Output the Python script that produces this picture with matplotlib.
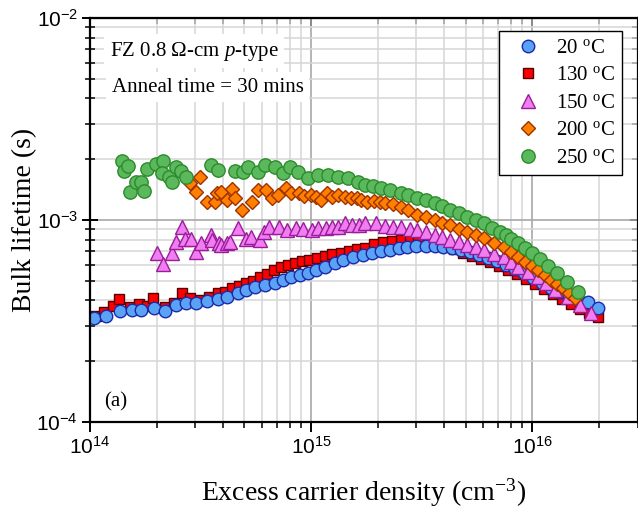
import matplotlib
matplotlib.use('Agg')
import matplotlib.pyplot as plt
from matplotlib.ticker import NullFormatter

plt.rcParams['font.family'] = ['Liberation Serif', 'DejaVu Serif']
plt.rcParams['mathtext.fontset'] = 'custom'
plt.rcParams['mathtext.rm'] = 'Liberation Serif'
plt.rcParams['mathtext.it'] = 'Liberation Serif:italic'
plt.rcParams['mathtext.bf'] = 'Liberation Serif:bold'

# Excess carrier density in units of 1e14 cm^-3, bulk lifetime in units of 1e-4 s
X_UNIT = 1e14
Y_UNIT = 1e-4

labels = ['20 $^{\\rm o}$C', '130 $^{\\rm o}$C', '150 $^{\\rm o}$C', '200 $^{\\rm o}$C', '250 $^{\\rm o}$C']

x_20 = [1.04, 1.18, 1.37, 1.55, 1.71, 1.94, 2.18, 2.44, 2.73, 3.03, 3.4, 3.81, 4.18, 4.69, 5.1, 5.59, 6.21, 6.88,
        7.48, 8.13, 8.92, 9.69, 10.5, 11.6, 12.8, 13.9, 15.5, 17.1, 18.8, 20.7, 22.7, 24.9, 27.3, 30, 33, 36.2, 39.7,
        43.6, 47.9, 52.6, 57.7, 63.4, 69.6, 76.4, 83.8, 92, 101, 111, 122, 134, 147, 161, 179, 198]
tau_20 = [3.27, 3.35, 3.54, 3.58, 3.58, 3.67, 3.54, 3.79, 3.88, 3.88, 3.97, 4.06, 4.16, 4.35, 4.50, 4.66, 4.77, 4.88,
          5.05, 5.22, 5.34, 5.47, 5.66, 5.85, 6.12, 6.34, 6.56, 6.71, 6.86, 7.02, 7.10, 7.27, 7.35, 7.44, 7.44, 7.44,
          7.35, 7.27, 7.10, 6.94, 6.71, 6.48, 6.27, 5.99, 5.72, 5.47, 5.16, 4.88, 4.61, 4.40, 4.20, 4.06, 3.93, 3.67]

x_130 = [1.06, 1.16, 1.27, 1.35, 1.52, 1.66, 1.81, 1.92, 2.18, 2.39, 2.60, 2.82, 3.13, 3.47, 3.81, 4.09, 4.41, 4.74,
         5.10, 5.48, 5.89, 6.34, 6.81, 7.33, 7.88, 8.47, 9.11, 9.79, 10.6, 11.6, 12.5, 13.6, 14.8, 16.2, 17.5, 19.2,
         21.1, 23.2, 25.4, 27.9, 30.6, 33.7, 37.0, 40.5, 44.5, 48.9, 53.7, 58.9, 64.7, 71.1, 78.0, 85.6, 93.9, 103,
         113, 125, 137, 150, 164, 181, 198]
tau_130 = [3.35, 3.50, 3.75, 4.06, 3.71, 3.84, 3.75, 4.11, 3.71, 3.88, 4.35, 4.11, 4.02, 4.16, 4.35, 4.40, 4.61, 4.71,
           4.88, 4.99, 5.22, 5.40, 5.66, 5.85, 5.99, 6.12, 6.27, 6.34, 6.48, 6.63, 6.79, 6.86, 7.02, 7.19, 7.27, 7.61,
           7.78, 7.87, 7.96, 7.96, 7.96, 7.87, 7.69, 7.44, 7.19, 6.86, 6.63, 6.41, 6.19, 5.92, 5.66, 5.40, 5.10, 4.82,
           4.55, 4.30, 4.06, 3.84, 3.63, 3.46, 3.31]

x_150 = [2.00, 2.14, 2.34, 2.44, 2.60, 2.70, 2.85, 3.03, 3.19, 3.51, 3.58, 3.85, 3.93, 4.18, 4.31, 4.69, 5.10, 5.36,
         5.89, 6.15, 6.47, 7.17, 7.80, 8.56, 9.20, 10.1, 10.8, 11.7, 12.5, 13.3, 14.2, 15.3, 16.4, 17.6, 19.6, 21.6,
         23.4, 25.4, 27.9, 30.3, 33.3, 36.2, 39.3, 42.7, 46.9, 51.0, 55.9, 60.8, 67.5, 74.8, 80.4, 86.4, 95.9, 106,
         116, 127, 145, 164, 185]
tau_150 = [6.86, 6.05, 6.86, 7.78, 9.23, 8.05, 8.05, 6.94, 7.69, 8.43, 7.96, 7.69, 7.52, 7.69, 7.78, 9.13, 8.05, 8.24,
           7.96, 8.72, 9.23, 9.23, 8.92, 9.13, 9.02, 8.92, 9.13, 9.13, 9.23, 9.23, 9.66, 9.45, 9.45, 9.66, 9.66, 9.34,
           9.23, 9.23, 9.02, 8.92, 8.72, 8.43, 8.24, 7.96, 7.78, 7.52, 7.35, 7.10, 6.79, 6.56, 6.19, 5.85, 5.53, 5.22,
           4.88, 4.50, 4.16, 3.79, 3.46]

x_200 = [2.82, 3.03, 3.13, 3.37, 3.69, 3.77, 3.93, 4.18, 4.41, 4.55, 4.89, 5.42, 5.77, 6.27, 6.67, 7.10, 7.72, 8.13,
         8.83, 9.30, 10.0, 10.5, 11.1, 11.8, 12.5, 13.3, 14.2, 15.2, 16.2, 16.9, 18.0, 19.2, 20.5, 21.6, 23.4, 25.4,
         27.6, 30.3, 33.0, 36.2, 39.3, 42.7, 46.9, 51.0, 55.9, 60.8, 67.5, 74.8, 80.4, 86.4, 93.0, 100, 106, 115, 122,
         130, 138, 147, 156]
tau_200 = [15.2, 13.8, 16.3, 12.3, 12.3, 13.6, 13.8, 12.6, 14.2, 12.9, 11.2, 12.3, 14.1, 14.1, 12.9, 13.3, 14.4, 13.6,
           13.6, 13.1, 13.3, 13, 12.6, 13.6, 13, 13.3, 13, 12.9, 12.9, 12.6, 12.3, 12.4, 12.3, 12.1, 12, 11.6, 11.2,
           10.6, 10.3, 10, 9.66, 9.45, 9.02, 8.72, 8.43, 8.15, 7.69, 7.35, 6.94, 6.56, 6.2, 5.92, 5.66, 5.34, 5.05,
           4.82, 4.61, 4.35, 4.11]

x_250 = [1.39, 1.42, 1.48, 1.51, 1.61, 1.71, 1.75, 1.82, 1.98, 2.13, 2.11, 2.27, 2.34, 2.44, 2.57, 2.71, 3.54, 3.81,
         4.55, 4.94, 5.2, 5.77, 6.21, 6.88, 7.48, 8.04, 8.74, 9.69, 10.8, 11.9, 13.2, 14.7, 16.3, 17.5, 19, 20.7,
         22.7, 25.4, 27.6, 30.3, 33, 36.2, 39.3, 42.7, 46.9, 51, 55.9, 60.8, 66, 71.8, 76.4, 80.4, 86.5, 93, 100, 109,
         118, 130, 144, 161]
tau_250 = [19.6, 17.5, 18.5, 13.8, 15.4, 15.4, 13.9, 17.9, 18.9, 19.6, 17.1, 16.3, 15.4, 18.3, 17.5, 16.3, 18.7, 17.7,
           17.5, 17.3, 18.3, 17.3, 18.7, 18.3, 17.1, 18.3, 17.3, 16.1, 16.7, 16.7, 16.3, 16.1, 15.4, 14.9, 14.7, 14.4,
           14.1, 13.6, 13.3, 12.9, 12.6, 12.1, 11.7, 11.2, 10.8, 10.3, 10, 9.66, 9.13, 8.72, 8.43, 8.05, 7.69, 7.27,
           6.86, 6.41, 5.92, 5.47, 4.93, 4.4]

fig = plt.figure(figsize=(6.38, 5.09), dpi=100)
ax = fig.add_axes([90 / 638, 87 / 509, 547.5 / 638, 404 / 509])
ax.set_xscale('log')
ax.set_yscale('log')
ax.set_xlim(1e14, 3e16)
ax.set_ylim(1e-4, 1e-2)
ax.set_axisbelow(True)
ax.grid(which='major', color='#a8a8a8', lw=1.2)
ax.grid(which='minor', color='#d6d6d6', lw=1.1)

styles = {
    '20': dict(marker='o', ms=9.0, mfc='#5aa2f5', mec='#1c2aa8', mew=1.0),
    '130': dict(marker='s', ms=7.4, mfc='#ff0000', mec='#550000', mew=1.0),
    '150': dict(marker='^', ms=10.0, mfc='#f07ef0', mec='#9a1c9a', mew=1.0),
    '200': dict(marker='D', ms=7.6, mfc='#ff8000', mec='#a03000', mew=1.0),
    '250': dict(marker='o', ms=9.6, mfc='#5cb85c', mec='#2a8c2a', mew=1.0),
}

def scaled(xs, ys):
    return [v * X_UNIT for v in xs], [v * Y_UNIT for v in ys]

h130, = ax.plot(*scaled(x_130, tau_130), ls='none', **styles['130'])
h20, = ax.plot(*scaled(x_20, tau_20), ls='none', **styles['20'])
h150, = ax.plot(*scaled(x_150, tau_150), ls='none', **styles['150'])
h200, = ax.plot(*scaled(x_200, tau_200), ls='none', **styles['200'])
h250, = ax.plot(*scaled(x_250, tau_250), ls='none', **styles['250'])

for s in ax.spines.values():
    s.set_linewidth(1.6)
    s.set_color('black')

ax.tick_params(axis='y', which='major', direction='inout', length=11, width=1.4, right=False,
               labelsize=15, labelfontfamily='Liberation Sans', pad=3)
ax.tick_params(axis='y', which='minor', direction='inout', length=7, width=1.1, right=False)
ax.tick_params(axis='x', which='major', direction='out', length=7, width=1.4, top=False,
               labelsize=15, labelfontfamily='Liberation Sans', pad=3)
ax.tick_params(axis='x', which='minor', direction='out', length=4.5, width=1.1, top=False)
ax.yaxis.set_minor_formatter(NullFormatter())
ax.xaxis.set_minor_formatter(NullFormatter())

top = ax.secondary_xaxis('top')
top.tick_params(which='major', direction='in', length=6, width=1.4, labeltop=False)
top.tick_params(which='minor', direction='in', length=4, width=1.1)
top.xaxis.set_major_formatter(NullFormatter())
top.xaxis.set_minor_formatter(NullFormatter())
right = ax.secondary_yaxis('right')
right.tick_params(which='major', direction='in', length=6, width=1.4, labelright=False)
right.tick_params(which='minor', direction='in', length=4, width=1.1)
right.yaxis.set_major_formatter(NullFormatter())
right.yaxis.set_minor_formatter(NullFormatter())

ax.set_xlabel('Excess carrier density (cm$^{\\mathdefault{-3}}$)', fontsize=20)
ax.set_ylabel('Bulk lifetime (s)', fontsize=20)
ax.xaxis.set_label_coords(0.5, -0.195)
ax.xaxis.label.set_va('baseline')
ax.yaxis.set_label_coords(-0.097, 0.5)

ax.text(0.0365, 0.918, 'FZ 0.8 \u03a9-cm $\\mathit{p}$-type', transform=ax.transAxes, fontsize=15,
        va='center', ha='left', bbox=dict(facecolor='white', edgecolor='none', pad=4))
ax.text(0.04, 0.829, 'Anneal time = 30 mins', transform=ax.transAxes, fontsize=15,
        va='center', ha='left', bbox=dict(facecolor='white', edgecolor='none', pad=4))
ax.text(0.026, 0.0495, '(a)', transform=ax.transAxes, fontsize=15, va='center', ha='left')

leg = ax.legend([h20, h130, h150, h200, h250], labels, loc='upper right',
                bbox_to_anchor=(0.9726, 0.9678), borderaxespad=0, frameon=True, fancybox=False,
                edgecolor='black', framealpha=1, fontsize=15, handlelength=2.1, handletextpad=0.3,
                labelspacing=0.38, borderpad=0.35)
leg.get_frame().set_linewidth(1.0)

fig.savefig('out.png', dpi=100)
